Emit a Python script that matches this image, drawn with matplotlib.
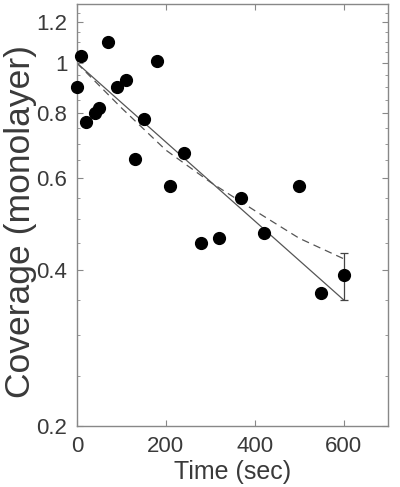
import numpy as np
import matplotlib.pyplot as plt
from matplotlib.ticker import FixedLocator, NullFormatter

plt.rcParams['font.family'] = ['Liberation Sans', 'DejaVu Sans']

# measured coverage vs time
time_s = [0, 10, 20, 40, 50, 70, 90, 110, 130, 150, 180, 210, 240,
          280, 320, 370, 420, 500, 550, 600]
coverage = [0.90, 1.03, 0.77, 0.80, 0.82, 1.10, 0.90, 0.93, 0.655, 0.78,
            1.01, 0.58, 0.67, 0.45, 0.46, 0.55, 0.47, 0.58, 0.36, 0.39]

# error bar on last point
err_t = [600]
err_v = [0.39]
err_lo = [0.04]
err_hi = [0.04]

# fit curves
solid_t = [0, 600]
solid_v = [1.0, 0.35]
dash_t = [0, 100, 200, 300, 400, 500, 600]
dash_v = [1.0, 0.82, 0.68, 0.59, 0.52, 0.46, 0.42]

y_major = [0.2, 0.4, 0.6, 0.8, 1.0, 1.2]
y_labels = ['0.2', '0.4', '0.6', '0.8', '1', '1.2']
x_major = [0, 200, 400, 600]

fig = plt.figure(figsize=(4.0, 4.87), dpi=100)
ax = fig.add_axes([77/400, 1 - 426/487, 311/400, 422/487])

ax.plot(solid_t, solid_v, color='#555555', lw=0.9)
ax.plot(dash_t, dash_v, color='#555555', lw=0.9, ls=(0, (6, 4)))
ax.errorbar(err_t, err_v, yerr=[err_lo, err_hi], fmt='none',
            ecolor='#444444', elinewidth=0.9, capsize=3, capthick=0.9)
ax.plot(time_s, coverage, 'o', color='black', ms=8.5, clip_on=False, zorder=5)

ax.set_yscale('log')
ax.set_xlim(0, 700)
ax.set_ylim(0.2, 1.3)
ax.yaxis.set_major_locator(FixedLocator(y_major))
ax.set_yticklabels(y_labels)
minor = [v / 100 for v in range(25, 131, 5) if v % 20 != 0]
ax.yaxis.set_minor_locator(FixedLocator(minor))
ax.yaxis.set_minor_formatter(NullFormatter())
ax.set_xticks(x_major)

for s in ax.spines.values():
    s.set_color('#888888')
    s.set_linewidth(1.0)
ax.tick_params(which='both', direction='in', top=True, right=True,
               colors='#888888', labelcolor='#3a3a3a', labelsize=16)
ax.tick_params(which='major', length=4)
ax.tick_params(which='minor', length=2)
ax.tick_params(axis='x', pad=7)
ax.tick_params(axis='y', pad=7)

ax.set_xlabel('Time (sec)', fontsize=18, color='#3a3a3a')
ax.xaxis.set_label_coords(0.5, -0.08)
ax.set_ylabel('Coverage (monolayer)', fontsize=25.5, color='#3a3a3a')
ax.yaxis.set_label_coords(-0.13, 0.485)

fig.savefig('out.png', dpi=100)
